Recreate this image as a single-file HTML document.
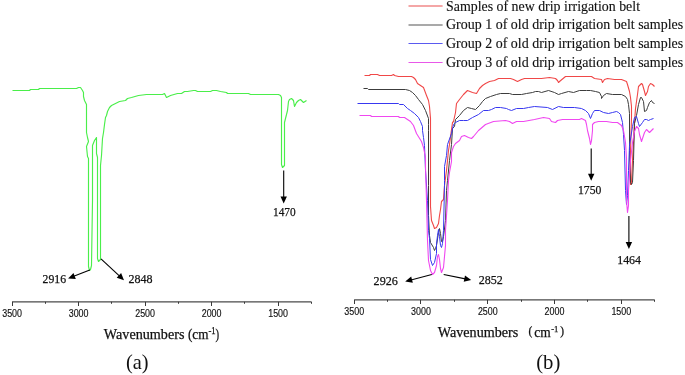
<!DOCTYPE html>
<html><head><meta charset="utf-8"><style>
html,body{margin:0;padding:0;background:#fff;}
body{width:685px;height:375px;overflow:hidden;position:relative;}
svg{position:absolute;left:0;top:0;will-change:transform;}
</style></head><body>
<svg width="685" height="375" viewBox="0 0 685 375">
<polyline points="12.5,90.5 29.5,90.5 30.5,89.5 38.5,89.5 39.5,88.5 76.5,88.5 78.5,87.5 80.5,87.5 82.5,90.5 83.5,92.5 83.5,96.5 84.5,100.5 86.5,104.5 86.5,106.5 86.5,125.5 86.5,132.5 87.5,137.5 88.5,141.5 86.5,146.5 87.5,156.5 88.5,158.5 88.5,200.5 88.5,266.5 89.5,270.5 90.5,269.5 91.5,265.5 92.5,200.5 92.5,145.5 94.5,140.5 96.5,137.5 96.5,145.5 96.5,153.5 97.5,157.5 97.5,200.5 97.5,258.5 98.5,261.5 100.5,259.5 100.5,200.5 100.5,165.5 101.5,155.5 102.5,138.5 103.5,132.5 104.5,124.5 105.5,117.5 106.5,115.5 107.5,111.5 109.5,107.5 111.5,105.5 115.5,103.5 119.5,101.5 125.5,100.5 127.5,98.5 131.5,97.5 138.5,95.5 146.5,94.5 162.5,94.5 164.5,93.5 166.5,97.5 170.5,95.5 177.5,93.5 181.5,93.5 184.5,91.5 187.5,91.5 193.5,90.5 195.5,90.5 197.5,91.5 201.5,91.5 210.5,91.5 212.5,90.5 216.5,90.5 220.5,91.5 226.5,92.5 227.5,93.5 248.5,93.5 250.5,94.5 264.5,94.5 266.5,94.5 278.5,94.5 280.5,95.5 281.5,97.5 281.5,117.5 281.5,118.5 281.5,164.5 282.5,167.5 284.5,165.5 284.5,122.5 285.5,118.5 287.5,110.5 288.5,101.5 289.5,99.5 291.5,98.5 293.5,100.5 294.5,106.5 296.5,102.5 298.5,100.5 300.5,99.5 303.5,102.5 306.5,100.5" fill="none" stroke="#4aee4a" stroke-width="1.15" stroke-linejoin="round"/>
<polyline points="364.5,75.5 369.5,75.5 370.5,74.5 377.5,74.5 379.5,75.5 391.5,75.5 393.5,74.5 394.5,75.5 398.5,76.5 402.5,76.5 411.5,76.5 413.5,77.5 415.5,79.5 417.5,83.5 420.5,85.5 423.5,87.5 426.5,95.5 428.5,100.5 429.5,106.5 430.5,118.5 430.5,130.5 430.5,185.5 430.5,206.5 431.5,220.5 433.5,225.5 434.5,228.5 436.5,227.5 438.5,223.5 439.5,215.5 440.5,209.5 441.5,201.5 443.5,199.5 444.5,185.5 446.5,170.5 447.5,160.5 448.5,150.5 449.5,144.5 451.5,129.5 452.5,122.5 453.5,121.5 455.5,112.5 456.5,103.5 459.5,99.5 463.5,94.5 467.5,90.5 472.5,92.5 476.5,93.5 479.5,88.5 482.5,85.5 485.5,83.5 489.5,81.5 494.5,80.5 498.5,78.5 510.5,78.5 513.5,79.5 517.5,81.5 521.5,79.5 524.5,78.5 541.5,78.5 549.5,77.5 555.5,78.5 557.5,80.5 558.5,82.5 559.5,81.5 565.5,76.5 591.5,76.5 594.5,78.5 601.5,79.5 602.5,82.5 604.5,79.5 607.5,78.5 614.5,79.5 621.5,79.5 626.5,81.5 627.5,84.5 629.5,91.5 630.5,97.5 631.5,106.5 631.5,117.5 630.5,150.5 630.5,180.5 630.5,184.5 631.5,183.5 632.5,160.5 634.5,122.5 635.5,108.5 637.5,94.5 638.5,86.5 641.5,83.5 642.5,84.5 644.5,91.5 645.5,95.5 647.5,91.5 648.5,86.5 650.5,83.5 652.5,84.5 654.5,86.5" fill="none" stroke="#f04848" stroke-width="1.1" stroke-linejoin="round"/>
<polyline points="363.5,88.5 367.5,88.5 368.5,89.5 405.5,89.5 409.5,90.5 412.5,92.5 415.5,95.5 418.5,99.5 422.5,104.5 425.5,110.5 428.5,118.5 428.5,124.5 428.5,130.5 428.5,185.5 428.5,215.5 429.5,235.5 430.5,242.5 433.5,247.5 434.5,250.5 435.5,248.5 436.5,245.5 438.5,232.5 439.5,228.5 440.5,233.5 441.5,241.5 442.5,241.5 443.5,236.5 445.5,220.5 446.5,190.5 447.5,180.5 449.5,160.5 451.5,144.5 452.5,128.5 454.5,126.5 455.5,119.5 459.5,115.5 463.5,110.5 467.5,107.5 471.5,108.5 475.5,109.5 479.5,105.5 482.5,101.5 485.5,98.5 490.5,96.5 496.5,94.5 500.5,93.5 509.5,93.5 512.5,94.5 521.5,94.5 526.5,93.5 532.5,92.5 535.5,91.5 538.5,91.5 541.5,92.5 548.5,90.5 554.5,92.5 558.5,94.5 561.5,93.5 568.5,91.5 573.5,92.5 579.5,90.5 586.5,90.5 590.5,90.5 595.5,91.5 599.5,92.5 601.5,96.5 601.5,98.5 603.5,95.5 606.5,93.5 612.5,94.5 621.5,94.5 625.5,96.5 627.5,99.5 628.5,104.5 629.5,113.5 629.5,150.5 630.5,182.5 631.5,184.5 632.5,182.5 633.5,160.5 634.5,123.5 636.5,115.5 638.5,104.5 640.5,97.5 641.5,97.5 643.5,101.5 644.5,111.5 646.5,110.5 647.5,107.5 649.5,102.5 651.5,100.5 652.5,102.5 654.5,103.5" fill="none" stroke="#3c3c3c" stroke-width="1" stroke-linejoin="round"/>
<polyline points="357.5,103.5 398.5,103.5 399.5,104.5 403.5,104.5 407.5,108.5 410.5,110.5 414.5,113.5 418.5,117.5 420.5,121.5 422.5,126.5 422.5,130.5 423.5,137.5 424.5,145.5 425.5,170.5 427.5,200.5 428.5,230.5 429.5,238.5 430.5,259.5 432.5,265.5 434.5,262.5 436.5,253.5 436.5,244.5 437.5,235.5 438.5,229.5 439.5,236.5 440.5,245.5 441.5,247.5 442.5,243.5 443.5,230.5 444.5,185.5 444.5,180.5 444.5,166.5 446.5,155.5 447.5,144.5 451.5,133.5 453.5,124.5 455.5,122.5 459.5,120.5 463.5,120.5 467.5,120.5 472.5,117.5 478.5,114.5 483.5,110.5 488.5,110.5 491.5,109.5 495.5,107.5 500.5,107.5 506.5,108.5 508.5,109.5 511.5,110.5 516.5,108.5 523.5,108.5 528.5,107.5 534.5,106.5 547.5,107.5 552.5,109.5 558.5,106.5 563.5,107.5 574.5,107.5 581.5,108.5 585.5,110.5 588.5,113.5 590.5,118.5 592.5,113.5 594.5,110.5 599.5,110.5 603.5,112.5 608.5,113.5 612.5,112.5 616.5,111.5 618.5,112.5 620.5,114.5 622.5,122.5 623.5,134.5 624.5,150.5 625.5,190.5 626.5,204.5 627.5,195.5 628.5,170.5 629.5,145.5 632.5,126.5 634.5,117.5 636.5,116.5 638.5,123.5 639.5,126.5 642.5,122.5 644.5,119.5 646.5,119.5 648.5,120.5 650.5,119.5 653.5,118.5" fill="none" stroke="#3838f0" stroke-width="1" stroke-linejoin="round"/>
<polyline points="359.5,115.5 370.5,115.5 371.5,116.5 391.5,116.5 393.5,116.5 398.5,116.5 399.5,117.5 404.5,117.5 407.5,119.5 410.5,121.5 413.5,125.5 416.5,133.5 421.5,141.5 423.5,147.5 425.5,157.5 425.5,166.5 426.5,200.5 427.5,240.5 428.5,260.5 430.5,270.5 432.5,274.5 434.5,272.5 436.5,265.5 437.5,256.5 438.5,254.5 439.5,259.5 440.5,268.5 441.5,272.5 443.5,267.5 444.5,256.5 445.5,245.5 445.5,230.5 447.5,200.5 448.5,180.5 449.5,172.5 451.5,161.5 451.5,152.5 453.5,146.5 455.5,143.5 459.5,140.5 461.5,136.5 464.5,135.5 468.5,137.5 471.5,138.5 473.5,136.5 478.5,130.5 485.5,124.5 493.5,121.5 505.5,120.5 509.5,121.5 512.5,123.5 516.5,121.5 523.5,121.5 534.5,119.5 543.5,117.5 549.5,118.5 551.5,121.5 555.5,122.5 557.5,120.5 562.5,119.5 579.5,119.5 581.5,118.5 585.5,120.5 586.5,124.5 587.5,130.5 589.5,138.5 590.5,144.5 591.5,140.5 592.5,130.5 592.5,124.5 594.5,122.5 598.5,121.5 602.5,121.5 606.5,121.5 612.5,122.5 617.5,122.5 621.5,125.5 623.5,130.5 625.5,142.5 626.5,158.5 626.5,200.5 627.5,212.5 628.5,205.5 628.5,190.5 630.5,160.5 632.5,142.5 634.5,131.5 636.5,126.5 638.5,128.5 639.5,134.5 641.5,141.5 642.5,138.5 644.5,132.5 646.5,129.5 649.5,132.5 651.5,130.5 653.5,128.5" fill="none" stroke="#f048f0" stroke-width="1.1" stroke-linejoin="round"/>
<line x1="12.1" y1="301.8" x2="311.4" y2="301.8" stroke="#4a4a4a" stroke-width="1.2"/><line x1="12.5" y1="301.8" x2="12.5" y2="306.0" stroke="#3a3a3a" stroke-width="1"/><line x1="78.5" y1="301.8" x2="78.5" y2="306.0" stroke="#3a3a3a" stroke-width="1"/><line x1="145.5" y1="301.8" x2="145.5" y2="306.0" stroke="#3a3a3a" stroke-width="1"/><line x1="211.5" y1="301.8" x2="211.5" y2="306.0" stroke="#3a3a3a" stroke-width="1"/><line x1="278.5" y1="301.8" x2="278.5" y2="306.0" stroke="#3a3a3a" stroke-width="1"/><line x1="45.5" y1="301.8" x2="45.5" y2="303.8" stroke="#3a3a3a" stroke-width="1"/><line x1="111.5" y1="301.8" x2="111.5" y2="303.8" stroke="#3a3a3a" stroke-width="1"/><line x1="178.5" y1="301.8" x2="178.5" y2="303.8" stroke="#3a3a3a" stroke-width="1"/><line x1="244.5" y1="301.8" x2="244.5" y2="303.8" stroke="#3a3a3a" stroke-width="1"/><line x1="311.5" y1="301.8" x2="311.5" y2="303.8" stroke="#3a3a3a" stroke-width="1"/>
<line x1="354.2" y1="299.8" x2="654.6" y2="299.8" stroke="#4a4a4a" stroke-width="1.2"/><line x1="354.5" y1="299.8" x2="354.5" y2="304.0" stroke="#3a3a3a" stroke-width="1"/><line x1="420.5" y1="299.8" x2="420.5" y2="304.0" stroke="#3a3a3a" stroke-width="1"/><line x1="487.5" y1="299.8" x2="487.5" y2="304.0" stroke="#3a3a3a" stroke-width="1"/><line x1="554.5" y1="299.8" x2="554.5" y2="304.0" stroke="#3a3a3a" stroke-width="1"/><line x1="621.5" y1="299.8" x2="621.5" y2="304.0" stroke="#3a3a3a" stroke-width="1"/><line x1="387.5" y1="299.8" x2="387.5" y2="301.8" stroke="#3a3a3a" stroke-width="1"/><line x1="454.5" y1="299.8" x2="454.5" y2="301.8" stroke="#3a3a3a" stroke-width="1"/><line x1="521.5" y1="299.8" x2="521.5" y2="301.8" stroke="#3a3a3a" stroke-width="1"/><line x1="587.5" y1="299.8" x2="587.5" y2="301.8" stroke="#3a3a3a" stroke-width="1"/><line x1="654.5" y1="299.8" x2="654.5" y2="301.8" stroke="#3a3a3a" stroke-width="1"/>
<text x="12.1" y="316.8" font-family="'Liberation Sans', sans-serif" font-size="10" text-anchor="middle" textLength="19.8" lengthAdjust="spacingAndGlyphs" fill="#111" stroke="#111" stroke-width="0.15" >3500</text>
<text x="354.2" y="314.6" font-family="'Liberation Sans', sans-serif" font-size="10" text-anchor="middle" textLength="19.8" lengthAdjust="spacingAndGlyphs" fill="#111" stroke="#111" stroke-width="0.15" >3500</text>
<text x="78.6" y="316.8" font-family="'Liberation Sans', sans-serif" font-size="10" text-anchor="middle" textLength="19.8" lengthAdjust="spacingAndGlyphs" fill="#111" stroke="#111" stroke-width="0.15" >3000</text>
<text x="421.0" y="314.6" font-family="'Liberation Sans', sans-serif" font-size="10" text-anchor="middle" textLength="19.8" lengthAdjust="spacingAndGlyphs" fill="#111" stroke="#111" stroke-width="0.15" >3000</text>
<text x="145.1" y="316.8" font-family="'Liberation Sans', sans-serif" font-size="10" text-anchor="middle" textLength="19.8" lengthAdjust="spacingAndGlyphs" fill="#111" stroke="#111" stroke-width="0.15" >2500</text>
<text x="487.8" y="314.6" font-family="'Liberation Sans', sans-serif" font-size="10" text-anchor="middle" textLength="19.8" lengthAdjust="spacingAndGlyphs" fill="#111" stroke="#111" stroke-width="0.15" >2500</text>
<text x="211.6" y="316.8" font-family="'Liberation Sans', sans-serif" font-size="10" text-anchor="middle" textLength="19.8" lengthAdjust="spacingAndGlyphs" fill="#111" stroke="#111" stroke-width="0.15" >2000</text>
<text x="554.5" y="314.6" font-family="'Liberation Sans', sans-serif" font-size="10" text-anchor="middle" textLength="19.8" lengthAdjust="spacingAndGlyphs" fill="#111" stroke="#111" stroke-width="0.15" >2000</text>
<text x="278.1" y="316.8" font-family="'Liberation Sans', sans-serif" font-size="10" text-anchor="middle" textLength="19.8" lengthAdjust="spacingAndGlyphs" fill="#111" stroke="#111" stroke-width="0.15" >1500</text>
<text x="621.3" y="314.6" font-family="'Liberation Sans', sans-serif" font-size="10" text-anchor="middle" textLength="19.8" lengthAdjust="spacingAndGlyphs" fill="#111" stroke="#111" stroke-width="0.15" >1500</text>
<line x1="89.8" y1="270.0" x2="73.7" y2="276.3" stroke="#000" stroke-width="1.1"/><polygon points="68.1,278.5 73.5,273.0 75.8,278.9" fill="#000"/>
<line x1="101.0" y1="258.8" x2="119.6" y2="276.1" stroke="#000" stroke-width="1.1"/><polygon points="124.0,280.2 116.7,277.8 121.1,273.1" fill="#000"/>
<line x1="283.7" y1="170.6" x2="283.7" y2="197.4" stroke="#000" stroke-width="1.1"/><polygon points="283.7,203.4 280.5,196.4 286.9,196.4" fill="#000"/>
<line x1="591.2" y1="148.4" x2="591.2" y2="174.8" stroke="#000" stroke-width="1.1"/><polygon points="591.2,180.8 588.0,173.8 594.4,173.8" fill="#000"/>
<line x1="628.9" y1="215.9" x2="628.9" y2="242.9" stroke="#000" stroke-width="1.1"/><polygon points="628.9,248.9 625.7,241.9 632.1,241.9" fill="#000"/>
<line x1="431.8" y1="274.5" x2="411.0" y2="280.0" stroke="#000" stroke-width="1.1"/><polygon points="405.2,281.5 411.2,276.6 412.8,282.8" fill="#000"/>
<line x1="443.7" y1="274.5" x2="465.3" y2="278.9" stroke="#000" stroke-width="1.1"/><polygon points="471.2,280.1 463.7,281.8 465.0,275.6" fill="#000"/>
<text x="42.6" y="283.0" font-family="'Liberation Serif', serif" font-size="13.5" text-anchor="start" textLength="23.5" lengthAdjust="spacingAndGlyphs" fill="#111" stroke="#111" stroke-width="0.25" >2916</text>
<text x="128.5" y="283.0" font-family="'Liberation Serif', serif" font-size="13.5" text-anchor="start" textLength="24.1" lengthAdjust="spacingAndGlyphs" fill="#111" stroke="#111" stroke-width="0.25" >2848</text>
<text x="273" y="216.4" font-family="'Liberation Serif', serif" font-size="13.5" text-anchor="start" textLength="22.7" lengthAdjust="spacingAndGlyphs" fill="#111" stroke="#111" stroke-width="0.25" >1470</text>
<text x="578" y="194.1" font-family="'Liberation Serif', serif" font-size="13.5" text-anchor="start" textLength="23.3" lengthAdjust="spacingAndGlyphs" fill="#111" stroke="#111" stroke-width="0.25" >1750</text>
<text x="617.2" y="263.6" font-family="'Liberation Serif', serif" font-size="13.5" text-anchor="start" textLength="23.8" lengthAdjust="spacingAndGlyphs" fill="#111" stroke="#111" stroke-width="0.25" >1464</text>
<text x="373.6" y="285.2" font-family="'Liberation Serif', serif" font-size="13.5" text-anchor="start" textLength="24.3" lengthAdjust="spacingAndGlyphs" fill="#111" stroke="#111" stroke-width="0.25" >2926</text>
<text x="478.8" y="284.2" font-family="'Liberation Serif', serif" font-size="13.5" text-anchor="start" textLength="24.1" lengthAdjust="spacingAndGlyphs" fill="#111" stroke="#111" stroke-width="0.25" >2852</text>
<line x1="408.5" y1="6" x2="442.6" y2="6" stroke="#f08888" stroke-width="1.6"/>
<text x="446" y="10.5" font-family="'Liberation Serif', serif" font-size="13.8" text-anchor="start" textLength="194" lengthAdjust="spacingAndGlyphs" fill="#111" stroke="#111" stroke-width="0.12" >Samples of new drip irrigation belt</text>
<line x1="408.5" y1="25" x2="442.6" y2="25" stroke="#8c8c8c" stroke-width="1.6"/>
<text x="446" y="29.2" font-family="'Liberation Serif', serif" font-size="13.8" text-anchor="start" textLength="237.2" lengthAdjust="spacingAndGlyphs" fill="#111" stroke="#111" stroke-width="0.12" >Group 1 of old drip irrigation belt samples</text>
<line x1="408.5" y1="43.5" x2="442.6" y2="43.5" stroke="#5a5af0" stroke-width="1"/>
<text x="446" y="48" font-family="'Liberation Serif', serif" font-size="13.8" text-anchor="start" textLength="237.2" lengthAdjust="spacingAndGlyphs" fill="#111" stroke="#111" stroke-width="0.12" >Group 2 of old drip irrigation belt samples</text>
<line x1="408.5" y1="62.5" x2="442.6" y2="62.5" stroke="#e858e8" stroke-width="1"/>
<text x="446" y="66.6" font-family="'Liberation Serif', serif" font-size="13.8" text-anchor="start" textLength="237.2" lengthAdjust="spacingAndGlyphs" fill="#111" stroke="#111" stroke-width="0.12" >Group 3 of old drip irrigation belt samples</text>
<text x="103.8" y="339" font-family="'Liberation Serif', serif" font-size="14" text-anchor="start" textLength="80.6" lengthAdjust="spacingAndGlyphs" fill="#111" stroke="#111" stroke-width="0.25" >Wavenumbers</text>
<text x="187.9" y="339" font-family="'Liberation Serif', serif" font-size="14" text-anchor="start" textLength="20.5" lengthAdjust="spacingAndGlyphs" fill="#111" stroke="#111" stroke-width="0.25" >(cm</text>
<text x="208.4" y="334" font-family="'Liberation Serif', serif" font-size="9.5" text-anchor="start" textLength="7.2" lengthAdjust="spacingAndGlyphs" fill="#111" stroke="#111" stroke-width="0.25" >-1</text>
<text x="215.6" y="339" font-family="'Liberation Serif', serif" font-size="14" text-anchor="start" textLength="3.6" lengthAdjust="spacingAndGlyphs" fill="#111" stroke="#111" stroke-width="0.25" >)</text>
<text x="437.8" y="337" font-family="'Liberation Serif', serif" font-size="14" text-anchor="start" textLength="80.5" lengthAdjust="spacingAndGlyphs" fill="#111" stroke="#111" stroke-width="0.25" >Wavenumbers</text>
<text x="528.6" y="335.3" font-family="'Liberation Serif', serif" font-size="11.5" text-anchor="start" textLength="3.8" lengthAdjust="spacingAndGlyphs" fill="#111" stroke="#111" stroke-width="0.25" >(</text>
<text x="534.3" y="337" font-family="'Liberation Serif', serif" font-size="14" text-anchor="start" textLength="16.4" lengthAdjust="spacingAndGlyphs" fill="#111" stroke="#111" stroke-width="0.25" >cm</text>
<text x="551.2" y="331.6" font-family="'Liberation Serif', serif" font-size="9" text-anchor="start" textLength="7.2" lengthAdjust="spacingAndGlyphs" fill="#111" stroke="#111" stroke-width="0.25" >-1</text>
<text x="560.2" y="335.3" font-family="'Liberation Serif', serif" font-size="11.5" text-anchor="start" textLength="3.8" lengthAdjust="spacingAndGlyphs" fill="#111" stroke="#111" stroke-width="0.25" >)</text>
<text x="125.9" y="368.5" font-family="'Liberation Serif', serif" font-size="22" text-anchor="start" textLength="22.6" lengthAdjust="spacingAndGlyphs" fill="#111" >(a)</text>
<text x="536.2" y="368.5" font-family="'Liberation Serif', serif" font-size="22" text-anchor="start" textLength="24.2" lengthAdjust="spacingAndGlyphs" fill="#111" >(b)</text>
</svg>
</body></html>
